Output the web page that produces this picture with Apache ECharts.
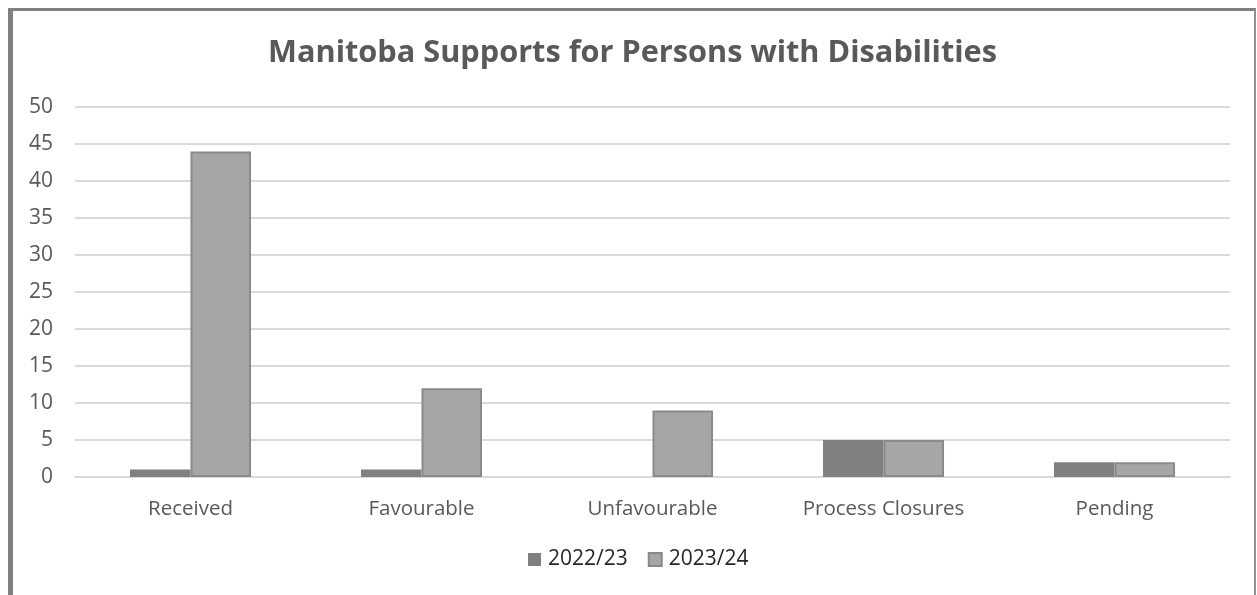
<!DOCTYPE html>
<html>
<head>
<meta charset="utf-8">
<script src="https://cdn.jsdelivr.net/npm/echarts@6/dist/echarts.min.js"></script>
<style>
html,body{margin:0;padding:0;background:#fff;}
#chart{position:absolute;left:0;top:0;width:1257px;height:595px;}
#frame{position:absolute;left:8px;top:8px;width:1241px;height:620px;border-left:5px solid #808080;border-top:3px solid #808080;border-right:2px solid #909090;pointer-events:none;}
</style>
</head>
<body>
<div id="chart"></div>
<div id="frame"></div>
<script>
const title = 'Manitoba Supports for Persons with Disabilities';
const categories = ['Received', 'Favourable', 'Unfavourable', 'Process Closures', 'Pending'];
const seriesNames = ['2022/23', '2023/24'];
const values2022 = [1, 1, 0, 5, 2];
const values2023 = [44, 12, 9, 5, 2];

const font = '"Open Sans", "Noto Sans", sans-serif';
const chart = echarts.init(document.getElementById('chart'), null, {renderer: 'canvas'});
chart.setOption({
  animation: false,
  backgroundColor: 'transparent',
  title: {
    text: title,
    left: 263,
    top: 33,
    textStyle: {fontFamily: font, fontWeight: 'bold', fontSize: 30.7, color: '#595959'}
  },
  legend: {
    bottom: 20,
    left: 523,
    icon: 'rect',
    itemWidth: 13,
    itemHeight: 13,
    itemGap: 20,
    textStyle: {fontFamily: font, fontSize: 21, color: '#262626', padding: [0,0,0,2]},
    data: seriesNames
  },
  grid: {left: 75, right: 27, top: 107, bottom: 118, containLabel: false},
  xAxis: {
    type: 'category',
    data: categories,
    axisLine: {show: true, lineStyle: {color: '#d9d9d9', width: 2}},
    axisTick: {show: false},
    axisLabel: {margin: 22, fontFamily: font, fontSize: 20.5, color: '#595959'}
  },
  yAxis: {
    type: 'value',
    min: 0, max: 50, interval: 5,
    axisLine: {show: false},
    axisTick: {show: false},
    axisLabel: {margin: 22, fontFamily: font, fontSize: 21, color: '#595959'},
    splitLine: {lineStyle: {color: '#d9d9d9', width: 2}}
  },
  series: [
    {
      name: seriesNames[0], type: 'bar', data: values2022,
      barGap: '0%', barCategoryGap: '47.6%',
      itemStyle: {color: '#808080', borderWidth: 0}
    },
    {
      name: seriesNames[1], type: 'bar', data: values2023,
      barGap: '0%', barCategoryGap: '47.6%',
      itemStyle: {color: '#a6a6a6', borderColor: '#8a8a8a', borderWidth: 2}
    }
  ]
});
</script>
</body>
</html>
